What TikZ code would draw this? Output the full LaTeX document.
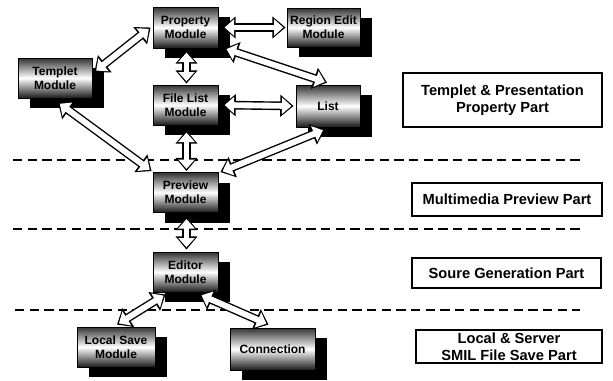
\documentclass[tikz,border=0pt]{standalone}
\usepackage{fontspec}
\setmainfont{Liberation Sans}
\usetikzlibrary{arrows.meta,shadows,calc}
\begin{document}
\begin{tikzpicture}[x=0.75pt,y=-0.75pt,
 mod/.style={draw=black, line width=0.6pt, top color=black!80, bottom color=black!90, middle color=white, align=center, font=\fontsize{9}{10.5}\selectfont\bfseries, inner sep=1pt, general shadow={fill=black, shadow xshift=9pt, shadow yshift=-7.5pt}},
 part/.style={draw=black, line width=1.5pt, fill=white, align=center, font=\fontsize{11}{13}\selectfont\bfseries, inner sep=2pt},
 sep/.style={dash pattern=on 7pt off 4pt, line width=0.9pt},
 harrow/.style={line width=6.5pt, {Triangle[length=10pt,width=16pt]}-{Triangle[length=10pt,width=16pt]}, postaction={draw=white, line width=4.4pt, shorten <=1.7pt, shorten >=1.7pt, {Triangle[length=7pt,width=12pt]}-{Triangle[length=7pt,width=12pt]}}}
]
\useasboundingbox (0,0) rectangle (613,380);
% separators
\coordinate (d1a) at (13,160); \coordinate (d1b) at (580,160);
\coordinate (d2a) at (13,229); \coordinate (d2b) at (580,229);
\coordinate (d3a) at (15,310); \coordinate (d3b) at (580,310);
\draw[sep] (d1a) -- (d1b);
\draw[sep] (d2a) -- (d2b);
\draw[sep] (d3a) -- (d3b);
% modules
\node[mod, minimum width=55.5pt, minimum height=30pt] (tm) at (55,78) {Templet\\Module};
\node[mod, minimum width=48.75pt, minimum height=30.75pt] (pm) at (185.5,27.5) {Property\\Module};
\node[mod, minimum width=54.75pt, minimum height=29.25pt] (rm) at (323.5,27.5) {Region Edit\\Module};
\node[mod, minimum width=48.75pt, minimum height=30pt] (fm) at (185.5,105) {File List\\Module};
\node[mod, minimum width=48pt, minimum height=31.5pt] (lm) at (328,106) {List};
\node[mod, minimum width=48.75pt, minimum height=30pt] (vm) at (185.5,192.5) {Preview\\Module};
\node[mod, minimum width=48.75pt, minimum height=30pt] (em) at (185.5,272) {Editor\\Module};
\node[mod, minimum width=58.5pt, minimum height=30pt] (ls) at (116,347) {Local Save\\Module};
\node[mod, minimum width=63.75pt, minimum height=31.5pt] (sc) at (272.5,349) {Connection};
% connectors
\draw[harrow] ($(tm.east)+(2,-6)$) -- ($(pm.west)+(-2,0)$);
\draw[harrow] ($(pm.east)+(4,0)$) -- ($(rm.west)+(-1,0)$);
\draw[harrow] ($(pm.south east)+(6,0)$) -- ($(lm.north)+(-1,-2)$);
\draw[harrow] ($(pm.south)+(1,2)$) -- ($(fm.north)+(1,-1)$);
\draw[harrow] ($(fm.east)+(4,0)$) -- ($(lm.west)+(-2,0)$);
\draw[harrow] ($(fm.south)+(1,5)$) -- ($(vm.north)+(1,-1)$);
\draw[harrow] ($(tm.south)+(3,4)$) -- ($(vm.north west)+(-1,-1)$);
\draw[harrow] ($(lm.south)+(-3,2)$) -- ($(vm.north east)+(2,0)$);
\draw[harrow] ($(vm.south)+(1,4)$) -- ($(em.north)+(1,-2)$);
\draw[harrow] ($(em.south)+(-20,2)$) -- ($(ls.north)+(1,-2)$);
\draw[harrow] ($(em.south)+(14,2)$) -- ($(sc.north)+(-4,-3)$);
% part labels
\node[part, minimum width=149.25pt, minimum height=40.5pt] (p1) at (502.5,100) {Templet \& Presentation\\Property Part};
\node[part, minimum width=142.5pt, minimum height=24.75pt] (p2) at (507,199.5) {Multimedia Preview Part};
\node[part, minimum width=141.75pt, minimum height=22.5pt] (p3) at (506.5,273) {Soure Generation Part};
\node[part, minimum width=139.5pt, minimum height=24.75pt] (p4) at (509,346.5) {Local \& Server\\SMIL File Save Part};
\end{tikzpicture}
\end{document}
